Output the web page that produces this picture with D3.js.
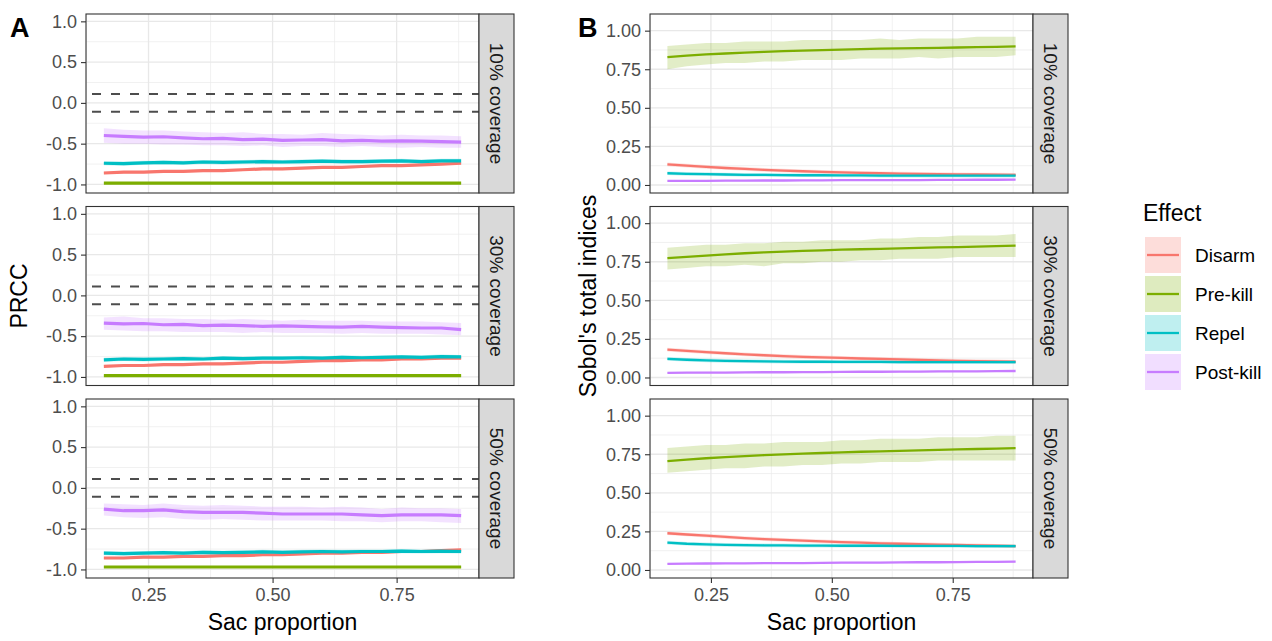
<!DOCTYPE html>
<html>
<head>
<meta charset="utf-8">
<script src="https://cdn.jsdelivr.net/npm/d3@7"></script>
<style>
  body { margin: 0; background: #fff; }
  svg { display: block; font-family: "Liberation Sans", Arial, sans-serif; }
</style>
</head>
<body>
<div id="chart"></div>
<script>
// x values (Sac proportion)
const sacProp = [0.16,0.20,0.24,0.28,0.32,0.36,0.40,0.44,0.48,0.52,0.56,0.60,0.64,0.68,0.72,0.76,0.80,0.84,0.88];

const effects = ["Disarm", "Pre-kill", "Repel", "Post-kill"];
const effectColors = ["#F8766D", "#7CAE00", "#00BFC4", "#C77CFF"];
const coverages = ["10% coverage", "30% coverage", "50% coverage"];

const prccTicks = [1.0, 0.5, 0.0, -0.5, -1.0];
const sobolTicks = [1.00, 0.75, 0.50, 0.25, 0.00];
const xTicks = [0.25, 0.50, 0.75];
const prccThreshold = [0.11, -0.11];

// ---- PRCC, 10% coverage
const prccDisarm10 = [-0.86,-0.85,-0.85,-0.84,-0.84,-0.83,-0.83,-0.82,-0.81,-0.81,-0.80,-0.79,-0.79,-0.78,-0.77,-0.77,-0.76,-0.75,-0.74];
const prccPreKill10 = [-0.985,-0.985,-0.985,-0.985,-0.985,-0.985,-0.985,-0.985,-0.985,-0.985,-0.985,-0.985,-0.985,-0.985,-0.985,-0.985,-0.985,-0.985,-0.985];
const prccRepel10 = [-0.74,-0.745,-0.735,-0.73,-0.735,-0.725,-0.73,-0.725,-0.72,-0.725,-0.72,-0.715,-0.72,-0.72,-0.715,-0.71,-0.72,-0.71,-0.71];
const prccPostKill10 = [-0.40,-0.41,-0.42,-0.415,-0.43,-0.44,-0.435,-0.45,-0.445,-0.46,-0.455,-0.45,-0.465,-0.46,-0.47,-0.465,-0.47,-0.475,-0.48];
const prccPostKill10Lo = [-0.49,-0.50,-0.50,-0.51,-0.51,-0.52,-0.52,-0.53,-0.52,-0.54,-0.53,-0.53,-0.54,-0.53,-0.54,-0.55,-0.54,-0.55,-0.55];
const prccPostKill10Hi = [-0.31,-0.33,-0.34,-0.34,-0.35,-0.36,-0.37,-0.36,-0.38,-0.38,-0.39,-0.37,-0.38,-0.39,-0.40,-0.39,-0.40,-0.40,-0.41];

// ---- PRCC, 30% coverage
const prccDisarm30 = [-0.87,-0.86,-0.86,-0.85,-0.85,-0.84,-0.84,-0.83,-0.82,-0.82,-0.81,-0.80,-0.80,-0.79,-0.79,-0.78,-0.78,-0.77,-0.77];
const prccPreKill30 = [-0.985,-0.985,-0.985,-0.985,-0.985,-0.985,-0.985,-0.985,-0.985,-0.985,-0.985,-0.985,-0.985,-0.985,-0.985,-0.985,-0.985,-0.985,-0.985];
const prccRepel30 = [-0.79,-0.78,-0.785,-0.78,-0.775,-0.78,-0.77,-0.775,-0.77,-0.77,-0.765,-0.77,-0.76,-0.765,-0.76,-0.755,-0.76,-0.75,-0.755];
const prccPostKill30 = [-0.34,-0.35,-0.345,-0.36,-0.355,-0.37,-0.365,-0.37,-0.38,-0.375,-0.38,-0.385,-0.39,-0.38,-0.39,-0.395,-0.40,-0.40,-0.42];
const prccPostKill30Lo = [-0.42,-0.43,-0.44,-0.44,-0.45,-0.45,-0.45,-0.46,-0.45,-0.46,-0.46,-0.46,-0.47,-0.46,-0.47,-0.47,-0.47,-0.48,-0.49];
const prccPostKill30Hi = [-0.27,-0.26,-0.28,-0.28,-0.29,-0.29,-0.30,-0.29,-0.30,-0.31,-0.30,-0.31,-0.31,-0.31,-0.32,-0.32,-0.32,-0.33,-0.34];

// ---- PRCC, 50% coverage
const prccDisarm50 = [-0.86,-0.86,-0.85,-0.85,-0.84,-0.84,-0.83,-0.83,-0.82,-0.82,-0.81,-0.80,-0.80,-0.79,-0.79,-0.78,-0.78,-0.77,-0.76];
const prccPreKill50 = [-0.97,-0.97,-0.97,-0.97,-0.97,-0.97,-0.97,-0.97,-0.97,-0.97,-0.97,-0.97,-0.97,-0.97,-0.97,-0.97,-0.97,-0.97,-0.97];
const prccRepel50 = [-0.80,-0.805,-0.80,-0.795,-0.80,-0.79,-0.795,-0.79,-0.785,-0.79,-0.785,-0.78,-0.785,-0.78,-0.78,-0.775,-0.78,-0.775,-0.78];
const prccPostKill50 = [-0.26,-0.28,-0.28,-0.27,-0.29,-0.30,-0.30,-0.30,-0.31,-0.32,-0.32,-0.32,-0.32,-0.33,-0.34,-0.33,-0.33,-0.33,-0.34];
const prccPostKill50Lo = [-0.34,-0.36,-0.37,-0.36,-0.38,-0.39,-0.38,-0.39,-0.40,-0.40,-0.40,-0.40,-0.41,-0.41,-0.42,-0.41,-0.41,-0.42,-0.43];
const prccPostKill50Hi = [-0.19,-0.20,-0.21,-0.19,-0.21,-0.22,-0.21,-0.22,-0.23,-0.23,-0.23,-0.24,-0.23,-0.24,-0.26,-0.24,-0.25,-0.25,-0.26];

// ---- Sobol total indices, 10% coverage
const sobolDisarm10 = [0.134,0.125,0.117,0.110,0.104,0.098,0.093,0.089,0.085,0.082,0.079,0.076,0.074,0.072,0.070,0.069,0.068,0.067,0.066];
const sobolPreKill10 = [0.828,0.838,0.846,0.852,0.858,0.863,0.867,0.871,0.874,0.877,0.880,0.883,0.885,0.887,0.889,0.891,0.893,0.895,0.898];
const sobolPreKill10Lo = [0.75,0.77,0.78,0.79,0.79,0.80,0.80,0.81,0.81,0.81,0.82,0.82,0.82,0.83,0.82,0.83,0.83,0.83,0.84];
const sobolPreKill10Hi = [0.90,0.91,0.92,0.92,0.93,0.93,0.93,0.94,0.94,0.94,0.94,0.95,0.94,0.95,0.95,0.95,0.96,0.96,0.96];
const sobolRepel10 = [0.076,0.072,0.070,0.068,0.066,0.065,0.064,0.063,0.063,0.062,0.062,0.061,0.061,0.061,0.060,0.060,0.060,0.060,0.060];
const sobolPostKill10 = [0.026,0.027,0.027,0.028,0.028,0.029,0.029,0.030,0.030,0.031,0.031,0.032,0.032,0.032,0.033,0.033,0.034,0.034,0.035];

// ---- Sobol total indices, 30% coverage
const sobolDisarm30 = [0.180,0.172,0.164,0.157,0.150,0.144,0.139,0.134,0.130,0.127,0.123,0.120,0.117,0.114,0.111,0.108,0.106,0.104,0.102];
const sobolPreKill30 = [0.774,0.782,0.790,0.798,0.805,0.811,0.816,0.820,0.824,0.828,0.831,0.834,0.837,0.840,0.843,0.845,0.848,0.851,0.855];
const sobolPreKill30Lo = [0.70,0.71,0.72,0.72,0.73,0.72,0.74,0.74,0.75,0.75,0.76,0.76,0.77,0.77,0.77,0.78,0.78,0.78,0.78];
const sobolPreKill30Hi = [0.84,0.85,0.86,0.86,0.87,0.87,0.88,0.88,0.89,0.89,0.89,0.90,0.90,0.91,0.91,0.92,0.92,0.92,0.93];
const sobolRepel30 = [0.120,0.115,0.111,0.108,0.106,0.104,0.103,0.102,0.102,0.101,0.101,0.101,0.100,0.100,0.100,0.100,0.100,0.100,0.100];
const sobolPostKill30 = [0.030,0.031,0.032,0.032,0.033,0.034,0.034,0.035,0.035,0.036,0.037,0.037,0.038,0.038,0.039,0.040,0.040,0.041,0.042];

// ---- Sobol total indices, 50% coverage
const sobolDisarm50 = [0.238,0.230,0.222,0.214,0.207,0.200,0.195,0.190,0.185,0.181,0.177,0.173,0.170,0.167,0.164,0.162,0.159,0.157,0.155];
const sobolPreKill50 = [0.706,0.715,0.724,0.731,0.738,0.744,0.749,0.754,0.758,0.762,0.766,0.769,0.772,0.775,0.778,0.781,0.784,0.787,0.790];
const sobolPreKill50Lo = [0.63,0.64,0.65,0.66,0.66,0.67,0.67,0.68,0.68,0.69,0.69,0.70,0.70,0.70,0.71,0.71,0.71,0.71,0.71];
const sobolPreKill50Hi = [0.79,0.80,0.81,0.81,0.82,0.82,0.83,0.83,0.83,0.84,0.84,0.85,0.85,0.85,0.86,0.86,0.86,0.87,0.87];
const sobolRepel50 = [0.177,0.170,0.166,0.163,0.161,0.160,0.159,0.158,0.158,0.157,0.157,0.157,0.156,0.156,0.156,0.156,0.155,0.155,0.155];
const sobolPostKill50 = [0.040,0.041,0.042,0.043,0.043,0.044,0.045,0.045,0.046,0.047,0.048,0.048,0.049,0.050,0.050,0.051,0.052,0.053,0.054];

// half-widths of the narrow ribbons (Disarm, Pre-kill, Repel, Post-kill)
const prccBand = [0.015, 0.01, 0.025, 0];
const sobolBand = [0.012, 0, 0.012, 0.005];

// build panel tables: one entry per coverage, series in effect order
function series(mean, band, lo, hi) {
    return sacProp.map((x, i) => ({
        x: x,
        y: mean[i],
        lo: lo ? lo[i] : mean[i] - band,
        hi: hi ? hi[i] : mean[i] + band
    }));
}

const prccPanels = [
    [series(prccDisarm10, prccBand[0]), series(prccPreKill10, prccBand[1]), series(prccRepel10, prccBand[2]), series(prccPostKill10, 0, prccPostKill10Lo, prccPostKill10Hi)],
    [series(prccDisarm30, prccBand[0]), series(prccPreKill30, prccBand[1]), series(prccRepel30, prccBand[2]), series(prccPostKill30, 0, prccPostKill30Lo, prccPostKill30Hi)],
    [series(prccDisarm50, prccBand[0]), series(prccPreKill50, prccBand[1]), series(prccRepel50, prccBand[2]), series(prccPostKill50, 0, prccPostKill50Lo, prccPostKill50Hi)]
];
const sobolPanels = [
    [series(sobolDisarm10, sobolBand[0]), series(sobolPreKill10, 0, sobolPreKill10Lo, sobolPreKill10Hi), series(sobolRepel10, sobolBand[2]), series(sobolPostKill10, sobolBand[3])],
    [series(sobolDisarm30, sobolBand[0]), series(sobolPreKill30, 0, sobolPreKill30Lo, sobolPreKill30Hi), series(sobolRepel30, sobolBand[2]), series(sobolPostKill30, sobolBand[3])],
    [series(sobolDisarm50, sobolBand[0]), series(sobolPreKill50, 0, sobolPreKill50Lo, sobolPreKill50Hi), series(sobolRepel50, sobolBand[2]), series(sobolPostKill50, sobolBand[3])]
];

// layout
const W = 1272, H = 641;
const panelTop = 14, panelH = 179, panelStep = 192.5;
const stripW = 35;

// ggplot prints a plain hyphen for negatives
const hyphen = f => d => f(d).replace("\u2212", "-");

const svg = d3.select("#chart").append("svg")
    .attr("width", W)
    .attr("height", H);

svg.append("rect").attr("width", W).attr("height", H).attr("fill", "#fff");

function drawFacetColumn(opts) {
    const x = d3.scaleLinear().domain([0.124, 0.916]).range([opts.left, opts.right]);
    const g = svg.append("g");

    opts.panels.forEach((panel, p) => {
        const top = panelTop + p * panelStep;
        const y = d3.scaleLinear().domain(opts.yDomain).range([top + panelH, top]);
        const pg = g.append("g");

        // background + grid
        pg.append("rect")
            .attr("x", opts.left).attr("y", top)
            .attr("width", opts.right - opts.left).attr("height", panelH)
            .attr("fill", "#fff");

        const minorX = xTicks.map(t => t - 0.125).concat([0.875]);
        pg.selectAll(".minorx").data(minorX).enter().append("line")
            .attr("x1", d => x(d)).attr("x2", d => x(d))
            .attr("y1", top).attr("y2", top + panelH)
            .attr("stroke", "#ebebeb").attr("stroke-width", 0.7);
        pg.selectAll(".minory").data(opts.minorY).enter().append("line")
            .attr("x1", opts.left).attr("x2", opts.right)
            .attr("y1", d => y(d)).attr("y2", d => y(d))
            .attr("stroke", "#ebebeb").attr("stroke-width", 0.7);
        pg.selectAll(".majorx").data(xTicks).enter().append("line")
            .attr("x1", d => x(d)).attr("x2", d => x(d))
            .attr("y1", top).attr("y2", top + panelH)
            .attr("stroke", "#e8e8e8").attr("stroke-width", 1.3);
        pg.selectAll(".majory").data(opts.yTicks).enter().append("line")
            .attr("x1", opts.left).attr("x2", opts.right)
            .attr("y1", d => y(d)).attr("y2", d => y(d))
            .attr("stroke", "#e8e8e8").attr("stroke-width", 1.3);

        // threshold dashed lines
        if (opts.threshold) {
            pg.selectAll(".thr").data(opts.threshold).enter().append("line")
                .attr("x1", opts.left).attr("x2", opts.right)
                .attr("y1", d => y(d)).attr("y2", d => y(d))
                .attr("stroke", "#4d4d4d").attr("stroke-width", 2)
                .attr("stroke-dasharray", "9,10")
                .attr("stroke-dashoffset", -6);
        }

        const area = d3.area().x(d => x(d.x)).y0(d => y(d.lo)).y1(d => y(d.hi));
        const line = d3.line().x(d => x(d.x)).y(d => y(d.y));

        panel.forEach((s, k) => {
            pg.append("path").attr("d", area(s))
                .attr("fill", effectColors[k]).attr("fill-opacity", 0.22);
        });
        panel.forEach((s, k) => {
            pg.append("path").attr("d", line(s))
                .attr("fill", "none")
                .attr("stroke", effectColors[k])
                .attr("stroke-width", opts.lineW)
                .attr("stroke-linejoin", "round");
        });

        // y axis
        const yAxis = pg.append("g")
            .attr("transform", `translate(${opts.left},0)`)
            .call(d3.axisLeft(y).tickValues(opts.yTicks).tickSize(5).tickPadding(4).tickFormat(hyphen(opts.yFormat)));
        yAxis.select(".domain").remove();
        yAxis.selectAll(".tick line").attr("stroke", "#333").attr("stroke-width", 1.1);
        yAxis.selectAll(".tick text").attr("fill", "#4d4d4d").attr("font-size", 18)
            .attr("font-family", "'Liberation Sans', Arial, sans-serif");

        // panel border
        pg.append("rect")
            .attr("x", opts.left).attr("y", top)
            .attr("width", opts.right - opts.left).attr("height", panelH)
            .attr("fill", "none").attr("stroke", "#333").attr("stroke-width", 1.1);

        // strip
        pg.append("rect")
            .attr("x", opts.right).attr("y", top)
            .attr("width", stripW).attr("height", panelH)
            .attr("fill", "#d9d9d9").attr("stroke", "#333").attr("stroke-width", 1.1);
        pg.append("text")
            .attr("transform", `translate(${opts.right + stripW / 2},${top + panelH / 2}) rotate(90)`)
            .attr("text-anchor", "middle").attr("dy", "0.35em")
            .attr("font-size", 19).attr("fill", "#1a1a1a")
            .text(coverages[p]);

        // x axis on bottom panel only
        if (p === opts.panels.length - 1) {
            const xAxis = pg.append("g")
                .attr("transform", `translate(0,${top + panelH})`)
                .call(d3.axisBottom(x).tickValues(xTicks).tickSize(5).tickPadding(5).tickFormat(d3.format(".2f")));
            xAxis.select(".domain").remove();
            xAxis.selectAll(".tick line").attr("stroke", "#333").attr("stroke-width", 1.1);
            xAxis.selectAll(".tick text").attr("fill", "#4d4d4d").attr("font-size", 18)
                .attr("font-family", "'Liberation Sans', Arial, sans-serif");
        }
    });

    // axis titles
    svg.append("text")
        .attr("x", (opts.left + opts.right) / 2).attr("y", 630)
        .attr("text-anchor", "middle").attr("font-size", 23).attr("fill", "#000")
        .text("Sac proportion");
    const midY = panelTop + (2 * panelStep + panelH) / 2;
    svg.append("text")
        .attr("transform", `translate(${opts.yTitleX},${midY}) rotate(-90)`)
        .attr("text-anchor", "middle").attr("font-size", 23).attr("fill", "#000")
        .text(opts.yTitle);

    // panel tag
    svg.append("text")
        .attr("x", opts.tagX).attr("y", 37)
        .attr("font-size", 27).attr("font-weight", "bold").attr("fill", "#000")
        .text(opts.tag);
}

drawFacetColumn({
    panels: prccPanels,
    left: 86, right: 479,
    yDomain: [-1.105, 1.09],
    yTicks: prccTicks,
    minorY: [0.75, 0.25, -0.25, -0.75],
    yFormat: d3.format(".1f"),
    threshold: prccThreshold,
    lineW: 3.2,
    yTitle: "PRCC", yTitleX: 27,
    tag: "A", tagX: 10
});

drawFacetColumn({
    panels: sobolPanels,
    left: 650, right: 1033,
    yDomain: [-0.052, 1.108],
    yTicks: sobolTicks,
    minorY: [0.875, 0.625, 0.375, 0.125],
    yFormat: d3.format(".2f"),
    threshold: null,
    lineW: 2.3,
    yTitle: "Sobol's total indices", yTitleX: 596,
    tag: "B", tagX: 578
});

// legend
const legend = svg.append("g");
legend.append("text")
    .attr("x", 1143).attr("y", 221)
    .attr("font-size", 23).attr("fill", "#000")
    .text("Effect");
effects.forEach((name, k) => {
    const ky = 237 + k * 39;
    legend.append("rect")
        .attr("x", 1145).attr("y", ky).attr("width", 36).attr("height", 36)
        .attr("fill", effectColors[k]).attr("fill-opacity", 0.25);
    legend.append("line")
        .attr("x1", 1147).attr("x2", 1179)
        .attr("y1", ky + 18).attr("y2", ky + 18)
        .attr("stroke", effectColors[k]).attr("stroke-width", 2.3);
    legend.append("text")
        .attr("x", 1195).attr("y", ky + 18).attr("dy", "0.35em")
        .attr("font-size", 19).attr("fill", "#000")
        .text(name);
});
</script>
</body>
</html>
